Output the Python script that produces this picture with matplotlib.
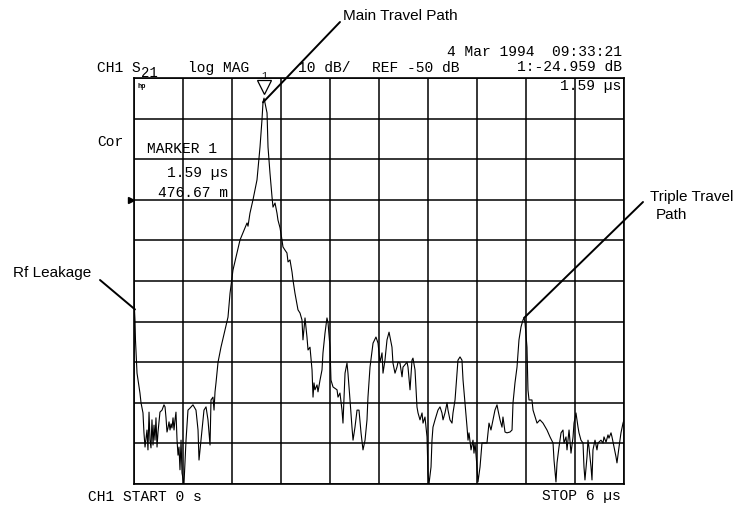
import numpy as np
import matplotlib
matplotlib.use("Agg")
import matplotlib.pyplot as plt
from matplotlib.transforms import offset_copy

# time axis in microseconds, trace in dB
t_us = [0.000, 0.012, 0.018, 0.037, 0.073, 0.086, 0.110, 0.122, 0.135, 0.159,
        0.171, 0.184, 0.196, 0.208, 0.220, 0.233, 0.245, 0.257, 0.269, 0.282,
        0.294, 0.318, 0.343, 0.367, 0.380, 0.392, 0.404, 0.416, 0.429, 0.441,
        0.453, 0.465, 0.478, 0.490, 0.502, 0.514, 0.527, 0.539, 0.551, 0.563,
        0.576, 0.588, 0.612, 0.637, 0.661, 0.686, 0.722, 0.759, 0.784, 0.796,
        0.833, 0.857, 0.882, 0.906, 0.931, 0.943, 0.967, 0.980, 0.992, 1.004,
        1.029, 1.065, 1.114, 1.151, 1.176, 1.212, 1.298, 1.384, 1.396, 1.420,
        1.457, 1.506, 1.543, 1.567, 1.580, 1.592, 1.629, 1.641, 1.665, 1.690,
        1.702, 1.727, 1.751, 1.763, 1.788, 1.812, 1.824, 1.849, 1.873, 1.886,
        1.910, 1.935, 1.947, 1.971, 2.008, 2.033, 2.057, 2.069, 2.094, 2.118,
        2.131, 2.155, 2.180, 2.192, 2.204, 2.216, 2.241, 2.253, 2.278, 2.302,
        2.314, 2.339, 2.363, 2.376, 2.400, 2.412, 2.437, 2.486, 2.498, 2.522,
        2.547, 2.559, 2.571, 2.584, 2.608, 2.620, 2.645, 2.669, 2.682, 2.706,
        2.731, 2.755, 2.780, 2.804, 2.829, 2.853, 2.865, 2.890, 2.927, 2.963,
        2.988, 3.012, 3.037, 3.049, 3.073, 3.098, 3.123, 3.159, 3.171, 3.196,
        3.220, 3.233, 3.257, 3.282, 3.294, 3.343, 3.355, 3.380, 3.404, 3.416,
        3.441, 3.465, 3.478, 3.502, 3.527, 3.539, 3.563, 3.588, 3.600, 3.612,
        3.637, 3.649, 3.661, 3.686, 3.722, 3.747, 3.771, 3.784, 3.808, 3.833,
        3.845, 3.869, 3.894, 3.906, 3.931, 3.955, 3.967, 3.992, 4.016, 4.029,
        4.053, 4.078, 4.090, 4.102, 4.127, 4.151, 4.163, 4.176, 4.200, 4.212,
        4.237, 4.261, 4.273, 4.322, 4.347, 4.371, 4.396, 4.420, 4.445, 4.457,
        4.482, 4.506, 4.518, 4.543, 4.567, 4.604, 4.629, 4.641, 4.665, 4.690,
        4.714, 4.739, 4.763, 4.776, 4.788, 4.812, 4.824, 4.837, 4.873, 4.886,
        4.935, 4.971, 5.008, 5.057, 5.094, 5.131, 5.143, 5.167, 5.180, 5.204,
        5.229, 5.253, 5.265, 5.290, 5.302, 5.327, 5.351, 5.376, 5.388, 5.412,
        5.437, 5.449, 5.473, 5.498, 5.510, 5.522, 5.547, 5.559, 5.571, 5.596,
        5.608, 5.620, 5.645, 5.669, 5.682, 5.718, 5.743, 5.755, 5.780, 5.804,
        5.816, 5.841, 5.853, 5.878, 5.902, 5.914, 5.939, 5.963, 5.988, 6.000]

mag_db = [-74.7, -79.6, -84.5, -92.7, -97.6, -100.0, -102.5, -107.4, -110.9, -106.7,
          -111.6, -102.3, -109.2, -111.1, -104.2, -110.4, -105.5, -109.2, -103.7, -110.9,
          -107.2, -102.3, -101.8, -100.5, -101.0, -103.7, -107.2, -106.2, -104.7, -106.7,
          -105.2, -106.2, -103.7, -106.7, -104.2, -102.3, -109.2, -112.9, -110.9, -116.5,
          -109.2, -117.3, -120.0, -109.2, -101.8, -101.3, -100.5, -101.8, -106.7, -114.1,
          -106.7, -101.8, -101.0, -104.2, -110.4, -99.3, -98.6, -101.8, -97.3, -95.1,
          -90.0, -86.3, -82.1, -78.9, -73.0, -67.3, -59.9, -55.7, -56.5, -53.3,
          -50.0, -45.1, -37.0, -30.3, -25.9, -24.96, -28.6, -37.0, -43.4, -49.3,
          -51.8, -50.8, -53.3, -55.0, -56.9, -59.9, -61.6, -62.4, -63.1, -65.3,
          -64.8, -67.8, -69.8, -73.0, -77.1, -77.9, -79.6, -84.5, -79.1, -83.8,
          -87.0, -86.3, -91.9, -98.6, -95.1, -96.8, -95.6, -97.3, -94.4, -91.9,
          -87.7, -82.8, -79.1, -80.3, -86.3, -94.4, -96.1, -96.8, -98.6, -97.6,
          -101.8, -105.0, -99.3, -92.7, -90.2, -92.7, -99.3, -106.0, -109.2, -106.0,
          -101.8, -101.8, -107.4, -111.6, -109.2, -104.2, -98.6, -91.2, -85.3, -83.8,
          -85.3, -90.0, -87.7, -92.7, -89.5, -84.5, -82.6, -86.3, -90.2, -92.7,
          -91.2, -90.0, -90.2, -93.6, -91.2, -90.0, -91.2, -96.8, -89.5, -89.0,
          -91.9, -101.0, -102.5, -104.2, -102.5, -105.0, -103.5, -108.4, -117.3, -120.0,
          -115.8, -109.2, -106.0, -104.2, -101.8, -101.0, -102.5, -104.2, -102.5, -100.0,
          -101.8, -104.2, -105.0, -102.5, -99.3, -92.7, -89.5, -88.7, -89.5, -94.4,
          -100.0, -106.0, -109.2, -107.4, -111.6, -109.2, -112.4, -109.9, -115.8, -119.5,
          -115.8, -109.9, -109.9, -109.9, -105.0, -106.7, -104.2, -101.8, -100.5, -101.8,
          -104.2, -106.0, -103.5, -107.2, -107.4, -107.2, -106.7, -100.0, -95.1, -91.2,
          -84.5, -81.3, -79.6, -79.1, -80.3, -86.3, -96.8, -99.3, -99.3, -101.8,
          -105.0, -104.2, -105.0, -106.7, -108.4, -109.9, -114.1, -119.5, -114.8, -110.9,
          -107.4, -106.7, -109.9, -108.4, -111.6, -106.7, -112.4, -108.4, -105.0, -102.5,
          -106.0, -107.4, -109.2, -109.9, -115.8, -119.0, -113.3, -109.2, -110.9, -115.8,
          -119.0, -111.6, -109.2, -111.6, -109.9, -109.2, -109.9, -108.4, -109.7, -107.9,
          -108.7, -107.4, -108.4, -110.9, -113.3, -114.8, -110.9, -107.4, -105.0, -104.2]

start_us, stop_us = 0.0, 6.0
ref_db, db_per_div = -50, 10
top_db, bottom_db = -20, -120
marker_t, marker_db = 1.59, -24.959

W, H = 733, 505
fig = plt.figure(figsize=(W / 100, H / 100), dpi=100)
ax = fig.add_axes([134 / W, 1 - 484 / H, 490 / W, 406 / H])

ax.plot(t_us, mag_db, color="black", lw=0.8)
ax.set_xlim(start_us, stop_us)
ax.set_ylim(bottom_db, top_db)
ax.set_xticks(np.linspace(start_us, stop_us, 11))
ax.set_yticks(np.arange(bottom_db, top_db + 1, db_per_div))
ax.tick_params(length=0, labelbottom=False, labelleft=False)
ax.grid(True, color="black", lw=1.1)
for s in ax.spines.values():
    s.set_color("black")
    s.set_linewidth(1.2)

# marker 1 (open triangle sitting on the peak) and reference position arrow
tri = offset_copy(ax.transData, fig=fig, x=0, y=8, units="points")
ax.plot([marker_t], [marker_db], marker="v", ms=10, mfc="white", mec="black",
        mew=0.9, transform=tri, clip_on=False)
ax.text(marker_t, top_db + 0.6, "1", ha="center", va="center", fontsize=7,
        family="Liberation Mono")
ax.plot([-0.04], [ref_db], marker=">", ms=4, color="black", clip_on=False)

mono = dict(family="Liberation Mono", fontsize=10.5, color="black", va="center")


def label(x, y, s, **kw):
    opts = dict(mono)
    opts.update(kw)
    fig.text(x / W, 1 - y / H, s, **opts)


label(622, 52, "4 Mar 1994  09:33:21", ha="right")
label(97, 68, "CH1 S")
label(141, 77, "21", va="baseline", fontsize=10)
label(188, 68, "log MAG")
label(298, 68, "10 dB/")
label(372, 68, "REF -50 dB")
label(622, 67, "1:-24.959 dB", ha="right")
label(621, 86, "1.59 \u00b5s", ha="right")
label(137, 87, "hp", fontsize=5, fontweight="bold")
label(97, 142, "Cor")
label(147, 149, "MARKER 1")
label(228, 173, "1.59 \u00b5s", ha="right")
label(228, 193, "476.67 m", ha="right")
label(88, 497, "CH1 START 0 s")
label(621, 496, "STOP 6 \u00b5s", ha="right")

# callouts
note = dict(family="Liberation Sans", fontsize=11, color="black", va="center")
fig.text(343 / W, 1 - 16 / H, "Main Travel Path", **note)
fig.text(13 / W, 1 - 273 / H, "Rf Leakage", **note)
fig.text(650 / W, 1 - 197 / H, "Triple Travel", **note)
fig.text(656 / W, 1 - 215 / H, "Path", **note)

line = dict(arrowstyle="-", color="black", lw=1.4, shrinkA=0, shrinkB=0)
ax.annotate("", xy=(1.58, -26.0), xytext=(340 / W, 1 - 22 / H),
            textcoords="figure fraction", arrowprops=line)
ax.annotate("", xy=(0.012, -77.0), xytext=(100 / W, 1 - 280 / H),
            textcoords="figure fraction", arrowprops=line)
ax.annotate("", xy=(4.776, -79.1), xytext=(643 / W, 1 - 202 / H),
            textcoords="figure fraction", arrowprops=line)

fig.savefig("out.png", dpi=100)
